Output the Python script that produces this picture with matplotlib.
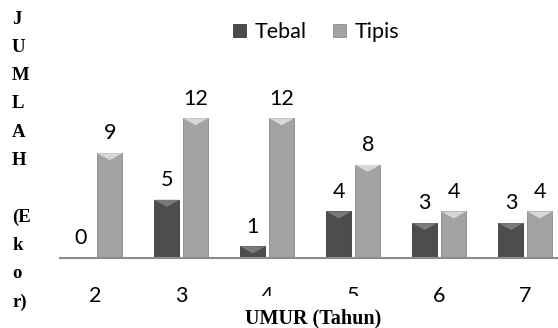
import numpy as np
import matplotlib.pyplot as plt

umur = ["2", "3", "4", "5", "6", "7"]
tebal = [0, 5, 1, 4, 3, 3]
tipis = [9, 12, 12, 8, 4, 4]
ylabel_chars = ["J", "U", "M", "L", "A", "H", "", "(E", "k", "o", "r)"]

fig = plt.figure(figsize=(5.58, 3.28), dpi=100)
ax = fig.add_axes([60/558, 70/328, 498/558, 163/328])

x = np.arange(len(umur))
w = 0.29
off = 0.168
c_tebal = "#4d4d4d"
c_tipis = "#a3a3a3"

b1 = ax.bar(x - off, tebal, w, color=c_tebal, edgecolor="#3a3a3a", linewidth=0.6, label="Tebal")
b2 = ax.bar(x + off, tipis, w, color=c_tipis, edgecolor="#8a8a8a", linewidth=0.6, label="Tipis")

# lighter bevel on top of each bar
for bars, col in [(b1, "#7a7a7a"), (b2, "#d8d8d8")]:
    for r in bars:
        h = r.get_height()
        if h <= 0:
            continue
        x0 = r.get_x()
        bw = r.get_width()
        d = min(0.6, h)
        ax.fill([x0, x0 + bw, x0 + bw/2], [h, h, h - d], color=col, zorder=3, lw=0)

sans = ["Lato", "DejaVu Sans"]
serif = ["Liberation Serif", "DejaVu Serif"]
lab_font = dict(family=sans, fontsize=15.5)
for xi, v in zip(x - off, tebal):
    ax.annotate(str(v), (xi, v), xytext=(0, 7), textcoords="offset points",
                ha="center", va="bottom", **lab_font)
for xi, v in zip(x + off, tipis):
    ax.annotate(str(v), (xi, v), xytext=(0, 7), textcoords="offset points",
                ha="center", va="bottom", **lab_font)

ax.set_xlim(-0.41, 5.38)
ax.set_ylim(0, 14)
ax.set_xticks(x)
ax.set_xticklabels(umur, family=sans, fontsize=15.5)
ax.tick_params(axis="x", length=0, pad=20)
ax.set_yticks([])
for s in ["top", "right", "left"]:
    ax.spines[s].set_visible(False)
ax.spines["bottom"].set_color("#8c8c8c")
ax.spines["bottom"].set_linewidth(1.5)

fig.legend(handles=[b1, b2], labels=["Tebal", "Tipis"], loc="center",
           bbox_to_anchor=(316/558, 1 - 32/328), ncol=2, frameon=False,
           prop={"family": sans, "size": 15.5},
           handlelength=0.6, handleheight=0.6, handletextpad=0.4, columnspacing=1.2)

for i, ch in enumerate(ylabel_chars):
    fig.text(12/558, 1 - (19 + i*28.3)/328, ch, ha="left", va="center",
             family=serif, fontweight="bold", fontsize=13.5)

fig.text(313/558, 1 - 318/328, "UMUR (Tahun)", ha="center", va="center",
         family=serif, fontweight="bold", fontsize=14.5,
         bbox=dict(facecolor="white", edgecolor="none", boxstyle="square,pad=0.6"))

fig.savefig("out.png", dpi=100)
